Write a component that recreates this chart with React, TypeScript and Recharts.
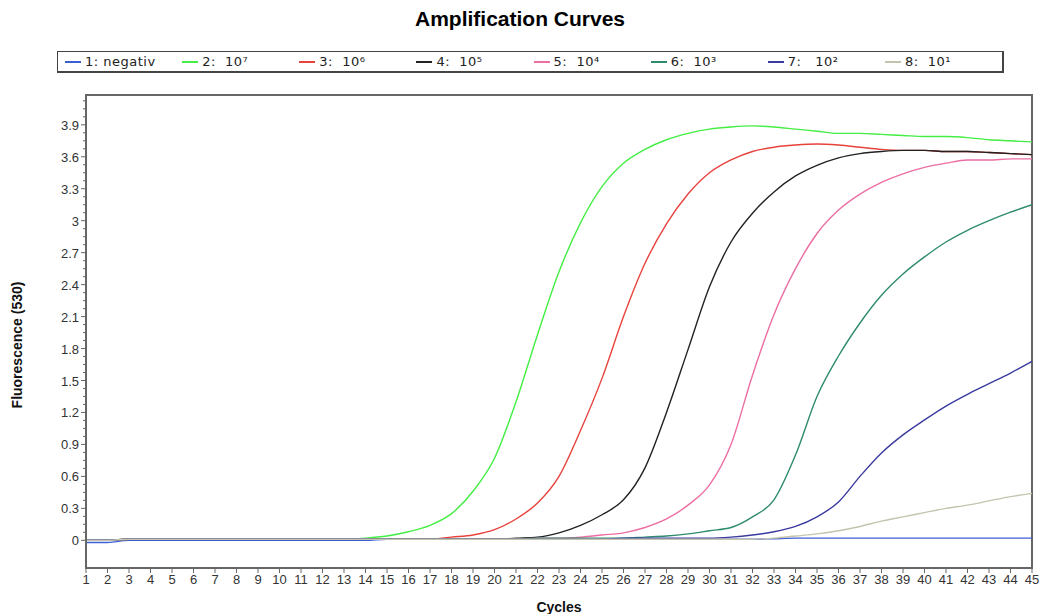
import type { FC } from 'react';
import { LineChart, Line, XAxis, YAxis, Label, ReferenceArea } from 'recharts';

const cycles = [
  1, 2, 3, 4, 5, 6, 7, 8, 9, 10, 11, 12, 13, 14, 15, 16, 17, 18, 19, 20, 21, 22, 23,
  24, 25, 26, 27, 28, 29, 30, 31, 32, 33, 34, 35, 36, 37, 38, 39, 40, 41, 42, 43, 44, 45,
];

// fluorescence (530) per cycle
const negativ = [
  -0.02, -0.02, 0, 0, 0, 0, 0, 0, 0, 0,
  0, 0, 0, 0, 0.01, 0.01, 0.01, 0.01, 0.01, 0.01,
  0.01, 0.01, 0.01, 0.01, 0.01, 0.01, 0.01, 0.01, 0.01, 0.01,
  0.01, 0.01, 0.015, 0.02, 0.02, 0.02, 0.02, 0.02, 0.02, 0.02,
  0.02, 0.02, 0.02, 0.02, 0.02,
];
const dil7 = [
  0, 0, 0.01, 0.01, 0.01, 0.01, 0.01, 0.01, 0.01, 0.01,
  0.01, 0.01, 0.01, 0.02, 0.04, 0.08, 0.14, 0.25, 0.46, 0.77,
  1.3, 1.93, 2.52, 2.98, 3.32, 3.54, 3.67, 3.76, 3.82, 3.86,
  3.88, 3.89, 3.88, 3.86, 3.84, 3.82, 3.82, 3.81, 3.8, 3.79,
  3.79, 3.78, 3.76, 3.75, 3.74,
];
const dil6 = [
  0, 0, 0.01, 0.01, 0.01, 0.01, 0.01, 0.01, 0.01, 0.01,
  0.01, 0.01, 0.01, 0.01, 0.01, 0.01, 0.01, 0.03, 0.05, 0.1,
  0.2, 0.35, 0.6, 1.03, 1.52, 2.1, 2.6, 2.97, 3.25, 3.45,
  3.57, 3.65, 3.69, 3.71, 3.72, 3.71, 3.69, 3.67, 3.66, 3.66,
  3.65, 3.65, 3.64, 3.63, 3.62,
];
const dil5 = [
  0, 0, 0.01, 0.01, 0.01, 0.01, 0.01, 0.01, 0.01, 0.01,
  0.01, 0.01, 0.01, 0.01, 0.01, 0.01, 0.01, 0.01, 0.01, 0.01,
  0.02, 0.03, 0.07, 0.14, 0.24, 0.38, 0.68, 1.2, 1.79, 2.38,
  2.8, 3.07, 3.27, 3.42, 3.52, 3.59, 3.63, 3.65, 3.66, 3.66,
  3.65, 3.65, 3.64, 3.63, 3.62,
];
const dil4 = [
  0, 0, 0.01, 0.01, 0.01, 0.01, 0.01, 0.01, 0.01, 0.01,
  0.01, 0.01, 0.01, 0.01, 0.01, 0.01, 0.01, 0.01, 0.01, 0.01,
  0.01, 0.02, 0.02, 0.03, 0.05, 0.07, 0.12, 0.2, 0.33, 0.52,
  0.9, 1.55, 2.12, 2.55, 2.88, 3.1, 3.25, 3.36, 3.44, 3.5,
  3.54, 3.57, 3.57, 3.58, 3.58,
];
const dil3 = [
  0, 0, 0.01, 0.01, 0.01, 0.01, 0.01, 0.01, 0.01, 0.01,
  0.01, 0.01, 0.01, 0.01, 0.01, 0.01, 0.01, 0.01, 0.01, 0.01,
  0.01, 0.02, 0.02, 0.02, 0.02, 0.02, 0.03, 0.04, 0.06, 0.09,
  0.12, 0.22, 0.38, 0.8, 1.35, 1.73, 2.04, 2.3, 2.5, 2.66,
  2.8, 2.91, 3.0, 3.08, 3.15,
];
const dil2 = [
  0, 0, 0.01, 0.01, 0.01, 0.01, 0.01, 0.01, 0.01, 0.01,
  0.01, 0.01, 0.01, 0.01, 0.01, 0.01, 0.01, 0.01, 0.01, 0.01,
  0.01, 0.01, 0.01, 0.01, 0.01, 0.02, 0.02, 0.02, 0.02, 0.02,
  0.03, 0.05, 0.08, 0.13, 0.22, 0.36, 0.6, 0.82, 0.99, 1.13,
  1.26, 1.37, 1.47, 1.57, 1.68,
];
const dil1 = [
  0, 0, 0.01, 0.01, 0.01, 0.01, 0.01, 0.01, 0.01, 0.01,
  0.01, 0.01, 0.01, 0.01, 0.01, 0.01, 0.01, 0.01, 0.01, 0.01,
  0.01, 0.01, 0.01, 0.01, 0.01, 0.01, 0.01, 0.01, 0.01, 0.01,
  0.01, 0.01, 0.02, 0.04, 0.06, 0.09, 0.13, 0.18, 0.22, 0.26,
  0.3, 0.33, 0.37, 0.41, 0.44,
];

const seriesNames = ['1: negativ', '2:  10⁷', '3:  10⁶', '4:  10⁵', '5:  10⁴', '6:  10³', '7:   10²', '8:  10¹'];
const seriesColors = ['#3d5fd6', '#44ee44', '#e8423c', '#222222', '#ec6ea3', '#2e8b6e', '#3a3aa0', '#c4c4ae'];
const seriesValues = [negativ, dil7, dil6, dil5, dil4, dil3, dil2, dil1];

const yMajorTicks = [0, 0.3, 0.6, 0.9, 1.2, 1.5, 1.8, 2.1, 2.4, 2.7, 3, 3.3, 3.6, 3.9];
// three minor marks between labelled ticks
const yTicks = yMajorTicks.flatMap((t) => [t, t + 0.075, t + 0.15, t + 0.225]);
const yDomain: [number, number] = [-0.26, 4.18];

const data = cycles.map((c, i) => {
  const row: Record<string, number> = { cycle: c };
  seriesValues.forEach((vals, s) => {
    row[`s${s + 1}`] = vals[i];
  });
  return row;
});

const font = '"Liberation Sans", Arial, sans-serif';

const YTick: FC<any> = ({ x, y, payload }) => {
  const v = Number(payload.value);
  const major = yMajorTicks.some((t) => Math.abs(t - v) < 1e-6);
  return (
    <g>
      <line x1={x - (major ? 5 : 3)} x2={x} y1={y} y2={y} stroke="#666" strokeWidth={1} />
      {major && (
        <text x={x - 7} y={y} dy={5} textAnchor="end" fontSize={13} fill="#333" fontFamily={font}>
          {String(Math.round(v * 10) / 10)}
        </text>
      )}
    </g>
  );
};

const App: FC = () => {
  return (
    <div style={{ position: 'absolute', left: 0, top: 0, width: 1040, height: 614, background: '#fff' }}>
      <div
        style={{
          position: 'absolute',
          top: 7,
          left: 0,
          width: 1040,
          textAlign: 'center',
          fontFamily: font,
          fontWeight: 'bold',
          fontSize: 21,
          color: '#000',
        }}
      >
        Amplification Curves
      </div>
      <div
        style={{
          position: 'absolute',
          left: 57,
          top: 51,
          width: 944,
          height: 19,
          border: '1px solid #444',
          borderBottomWidth: 2,
          borderRightWidth: 2,
          display: 'flex',
          alignItems: 'center',
          boxSizing: 'content-box',
          fontFamily: '"DejaVu Sans", sans-serif',
          fontSize: 13,
          letterSpacing: 0.5,
          color: '#222',
        }}
      >
        {seriesNames.map((name, i) => (
          <div key={name} style={{ width: 118, display: 'flex', alignItems: 'center', paddingLeft: i === 0 ? 7 : 0 }}>
            <svg width={16} height={4} style={{ marginRight: 4 }}>
              <line x1={0} x2={16} y1={2} y2={2} stroke={seriesColors[i]} strokeWidth={2} />
            </svg>
            <span style={{ whiteSpace: 'pre' }}>{name}</span>
          </div>
        ))}
      </div>
      <LineChart width={1040} height={614} data={data} margin={{ top: 95, right: 8, bottom: 16, left: 0 }}>
        <XAxis
          dataKey="cycle"
          type="number"
          domain={[1, 45]}
          ticks={cycles}
          interval={0}
          height={30}
          tick={{ fontSize: 13, fill: '#333', fontFamily: font }}
          tickSize={5}
          tickMargin={2}
          axisLine={{ stroke: '#666', strokeWidth: 2 }}
          tickLine={{ stroke: '#666' }}
        >
          <Label
            value="Cycles"
            position="insideBottom"
            offset={-14}
            style={{ fontSize: 14, fontWeight: 'bold', fill: '#111', fontFamily: font }}
          />
        </XAxis>
        <YAxis
          type="number"
          domain={yDomain}
          allowDataOverflow
          ticks={yTicks}
          interval={0}
          width={86}
          tickSize={0}
          tickMargin={0}
          tickLine={false}
          tick={<YTick />}
          axisLine={{ stroke: '#666', strokeWidth: 2 }}
        >
          <Label
            content={() => (
              <text
                x={22}
                y={345}
                transform="rotate(-90 22 345)"
                textAnchor="middle"
                fontSize={14}
                fontWeight="bold"
                fill="#111"
                fontFamily={font}
              >
                Fluorescence (530)
              </text>
            )}
          />
        </YAxis>
        <ReferenceArea
          x1={1}
          x2={45}
          y1={yDomain[0]}
          y2={yDomain[1]}
          fill="none"
          stroke="#666"
          strokeWidth={2}
          ifOverflow="visible"
        />
        {seriesNames.map((name, i) => (
          <Line
            key={name}
            type="monotone"
            dataKey={`s${i + 1}`}
            name={name}
            stroke={seriesColors[i]}
            strokeWidth={1.4}
            dot={false}
            activeDot={false}
            isAnimationActive={false}
          />
        ))}
      </LineChart>
    </div>
  );
};

export default App;
